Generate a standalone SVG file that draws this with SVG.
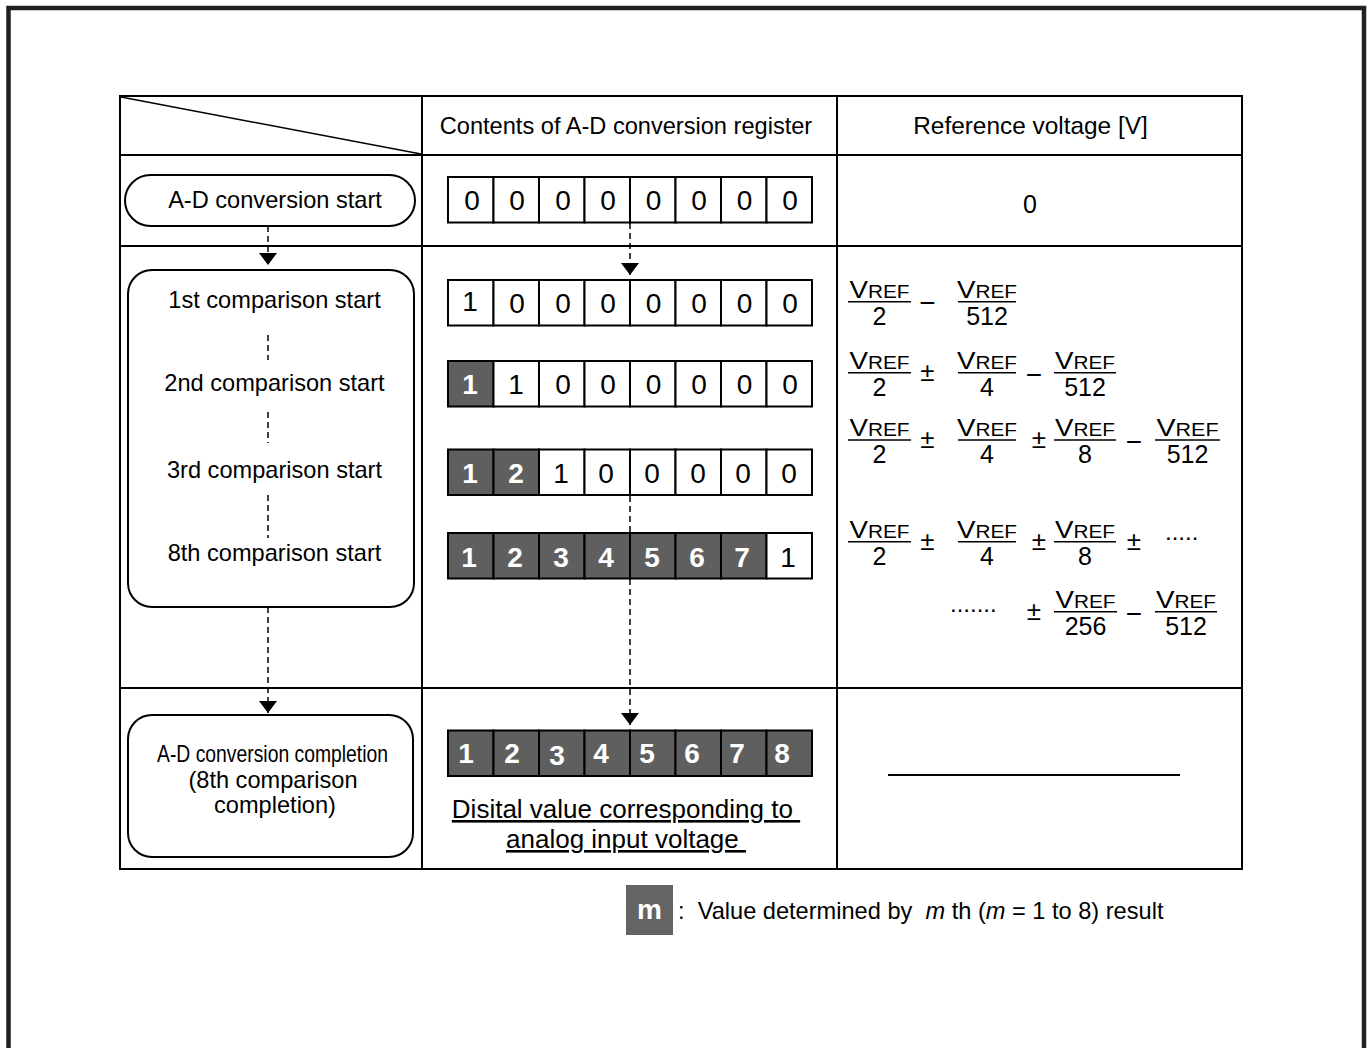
<svg xmlns="http://www.w3.org/2000/svg" width="1369" height="1048" viewBox="0 0 1369 1048">
<style>
text{font-family:"Liberation Sans",Arial,sans-serif;fill:#000}
.t{font-size:23.6px}
.c{text-anchor:middle}
.tb{fill:none;stroke:#000;stroke-width:2}
.pill{fill:#fff;stroke:#000;stroke-width:2}
.w{fill:#fff;stroke:#000;stroke-width:2}
.d{fill:#5f5f5f;stroke:#000;stroke-width:2}
.dg{font-size:28px;text-anchor:middle}
.db{font-size:28px;text-anchor:middle;font-weight:bold;fill:#fff}
.dash{stroke:#000;stroke-width:1.5;stroke-dasharray:6 4;fill:none}
.bar{stroke:#000;stroke-width:1.5}
.v{font-size:24px}
.r{font-size:18px}
.n{font-size:25px;text-anchor:middle}
.pm{font-size:26px;text-anchor:middle}
.mi{font-size:28px;text-anchor:middle}
.dots{font-size:24px}
</style>
<defs>
<marker id="ah" viewBox="0 0 12 18" refX="12" refY="9" markerWidth="12" markerHeight="18" markerUnits="userSpaceOnUse" orient="auto">
<path d="M0,0 L12,9 L0,18 z" fill="#000"/>
</marker>
</defs>
<rect x="0" y="0" width="1369" height="1048" fill="#fff"/>
<rect x="8.5" y="8" width="1355.5" height="1100" fill="none" stroke="#231f20" stroke-width="4.5"/>

<g id="table">
<rect class="tb" x="120" y="96" width="1122" height="773"/>
<line class="tb" x1="422" y1="96" x2="422" y2="869"/>
<line class="tb" x1="837" y1="96" x2="837" y2="869"/>
<line class="tb" x1="120" y1="155" x2="1242" y2="155"/>
<line class="tb" x1="120" y1="246" x2="1242" y2="246"/>
<line class="tb" x1="120" y1="688" x2="1242" y2="688"/>
<line stroke="#000" stroke-width="1.5" x1="121" y1="97" x2="421" y2="154"/>
<text class="t c" x="626" y="134">Contents of A-D conversion register</text>
<text class="c" font-size="24.4" x="1030.5" y="134">Reference voltage [V]</text>
</g>

<g id="start">
<rect class="pill" x="125" y="175" width="290" height="51" rx="25.5"/>
<text class="t c" x="275" y="208">A-D conversion start</text>
</g>

<g id="comparisons">
<rect class="pill" x="128" y="270" width="286" height="337" rx="24"/>
<text class="t c" x="274.5" y="308">1st comparison start</text>
<text class="t c" x="274.5" y="391">2nd comparison start</text>
<text class="t c" x="274.5" y="478">3rd comparison start</text>
<text class="t c" x="274.5" y="561">8th comparison start</text>
</g>

<g id="completion">
<rect class="pill" x="128" y="715" width="285" height="142" rx="24"/>
<text class="c" font-size="23.6" x="272.5" y="762" textLength="231" lengthAdjust="spacingAndGlyphs">A-D conversion completion</text>
<text class="t c" x="273" y="788">(8th comparison</text>
<text class="t c" x="275" y="813">completion)</text>
</g>

<g id="reg0">
<rect class="w" x="448" y="177" width="45.5" height="45.5"/><rect class="w" x="493.5" y="177" width="45.5" height="45.5"/><rect class="w" x="539" y="177" width="45.5" height="45.5"/><rect class="w" x="584.5" y="177" width="45.5" height="45.5"/><rect class="w" x="630" y="177" width="45.5" height="45.5"/><rect class="w" x="675.5" y="177" width="45.5" height="45.5"/><rect class="w" x="721" y="177" width="45.5" height="45.5"/><rect class="w" x="766.5" y="177" width="45.5" height="45.5"/>
<text class="dg" x="472" y="210">0</text><text class="dg" x="517" y="210">0</text><text class="dg" x="563" y="210">0</text><text class="dg" x="608" y="210">0</text><text class="dg" x="653.5" y="210">0</text><text class="dg" x="699" y="210">0</text><text class="dg" x="744.5" y="210">0</text><text class="dg" x="790" y="210">0</text>
</g>

<g id="reg1">
<rect class="w" x="448" y="280" width="45.5" height="45.5"/><rect class="w" x="493.5" y="280" width="45.5" height="45.5"/><rect class="w" x="539" y="280" width="45.5" height="45.5"/><rect class="w" x="584.5" y="280" width="45.5" height="45.5"/><rect class="w" x="630" y="280" width="45.5" height="45.5"/><rect class="w" x="675.5" y="280" width="45.5" height="45.5"/><rect class="w" x="721" y="280" width="45.5" height="45.5"/><rect class="w" x="766.5" y="280" width="45.5" height="45.5"/>
<text class="dg" x="470" y="311">1</text><text class="dg" x="517" y="313">0</text><text class="dg" x="563" y="313">0</text><text class="dg" x="608" y="313">0</text><text class="dg" x="653.5" y="313">0</text><text class="dg" x="699" y="313">0</text><text class="dg" x="744.5" y="313">0</text><text class="dg" x="790" y="313">0</text>
</g>

<g id="reg2">
<rect class="d" x="448" y="361" width="45.5" height="45.5"/><rect class="w" x="493.5" y="361" width="45.5" height="45.5"/><rect class="w" x="539" y="361" width="45.5" height="45.5"/><rect class="w" x="584.5" y="361" width="45.5" height="45.5"/><rect class="w" x="630" y="361" width="45.5" height="45.5"/><rect class="w" x="675.5" y="361" width="45.5" height="45.5"/><rect class="w" x="721" y="361" width="45.5" height="45.5"/><rect class="w" x="766.5" y="361" width="45.5" height="45.5"/>
<text class="db" x="470" y="394">1</text><text class="dg" x="516" y="394">1</text><text class="dg" x="563" y="394">0</text><text class="dg" x="608" y="394">0</text><text class="dg" x="653.5" y="394">0</text><text class="dg" x="699" y="394">0</text><text class="dg" x="744.5" y="394">0</text><text class="dg" x="790" y="394">0</text>
</g>

<g id="reg3">
<rect class="d" x="448" y="449.5" width="45.5" height="45.5"/><rect class="d" x="493.5" y="449.5" width="45.5" height="45.5"/><rect class="w" x="539" y="449.5" width="45.5" height="45.5"/><rect class="w" x="584.5" y="449.5" width="45.5" height="45.5"/><rect class="w" x="630" y="449.5" width="45.5" height="45.5"/><rect class="w" x="675.5" y="449.5" width="45.5" height="45.5"/><rect class="w" x="721" y="449.5" width="45.5" height="45.5"/><rect class="w" x="766.5" y="449.5" width="45.5" height="45.5"/>
<text class="db" x="470" y="483">1</text><text class="db" x="516" y="483">2</text><text class="dg" x="561" y="483">1</text><text class="dg" x="606" y="483">0</text><text class="dg" x="652" y="483">0</text><text class="dg" x="698" y="483">0</text><text class="dg" x="743" y="483">0</text><text class="dg" x="789" y="483">0</text>
</g>

<g id="reg4">
<rect class="d" x="448" y="533" width="45.5" height="45.5"/><rect class="d" x="493.5" y="533" width="45.5" height="45.5"/><rect class="d" x="539" y="533" width="45.5" height="45.5"/><rect class="d" x="584.5" y="533" width="45.5" height="45.5"/><rect class="d" x="630" y="533" width="45.5" height="45.5"/><rect class="d" x="675.5" y="533" width="45.5" height="45.5"/><rect class="d" x="721" y="533" width="45.5" height="45.5"/><rect class="w" x="766.5" y="533" width="45.5" height="45.5"/>
<text class="db" x="469" y="567">1</text><text class="db" x="515" y="567">2</text><text class="db" x="561" y="567">3</text><text class="db" x="606" y="567">4</text><text class="db" x="652" y="567">5</text><text class="db" x="697" y="567">6</text><text class="db" x="742" y="567">7</text><text class="dg" x="788" y="567">1</text>
</g>

<g id="reg5">
<rect class="d" x="448" y="730.5" width="45.5" height="45.5"/><rect class="d" x="493.5" y="730.5" width="45.5" height="45.5"/><rect class="d" x="539" y="730.5" width="45.5" height="45.5"/><rect class="d" x="584.5" y="730.5" width="45.5" height="45.5"/><rect class="d" x="630" y="730.5" width="45.5" height="45.5"/><rect class="d" x="675.5" y="730.5" width="45.5" height="45.5"/><rect class="d" x="721" y="730.5" width="45.5" height="45.5"/><rect class="d" x="766.5" y="730.5" width="45.5" height="45.5"/>
<text class="db" x="466" y="763">1</text><text class="db" x="512" y="763">2</text><text class="db" x="557" y="765">3</text><text class="db" x="601" y="763">4</text><text class="db" x="647" y="763">5</text><text class="db" x="692" y="763">6</text><text class="db" x="737" y="763">7</text><text class="db" x="782" y="763">8</text>
<text class="c" font-size="26" x="626" y="818" text-decoration="underline" xml:space="preserve">Disital value corresponding to </text>
<text class="c" font-size="26" x="626" y="848" text-decoration="underline" xml:space="preserve">analog input voltage </text>
</g>

<g id="voltages">
<text class="c" font-size="25" x="1030" y="213">0</text>
<!-- row 1 -->
<text class="c" x="879.5" y="298" textLength="60" lengthAdjust="spacingAndGlyphs"><tspan class="v">V</tspan><tspan class="r">REF</tspan></text>
<line class="bar" x1="848" y1="301.7" x2="911" y2="301.7"/>
<text class="n" x="879.5" y="325">2</text>
<text class="mi" x="927.5" y="312">−</text>
<text class="c" x="987" y="298" textLength="60" lengthAdjust="spacingAndGlyphs"><tspan class="v">V</tspan><tspan class="r">REF</tspan></text>
<line class="bar" x1="958" y1="301.7" x2="1016" y2="301.7"/>
<text class="n" x="987" y="325">512</text>
<!-- row 2 -->
<text class="c" x="879.5" y="369" textLength="60" lengthAdjust="spacingAndGlyphs"><tspan class="v">V</tspan><tspan class="r">REF</tspan></text>
<line class="bar" x1="848" y1="372.7" x2="911" y2="372.7"/>
<text class="n" x="879.5" y="396">2</text>
<text class="pm" x="927.5" y="381">±</text>
<text class="c" x="987" y="369" textLength="60" lengthAdjust="spacingAndGlyphs"><tspan class="v">V</tspan><tspan class="r">REF</tspan></text>
<line class="bar" x1="958" y1="372.7" x2="1016" y2="372.7"/>
<text class="n" x="987" y="396">4</text>
<text class="mi" x="1034" y="384">−</text>
<text class="c" x="1085" y="369" textLength="60" lengthAdjust="spacingAndGlyphs"><tspan class="v">V</tspan><tspan class="r">REF</tspan></text>
<line class="bar" x1="1054" y1="372.7" x2="1116" y2="372.7"/>
<text class="n" x="1085" y="396">512</text>
<!-- row 3 -->
<text class="c" x="879.5" y="436" textLength="60" lengthAdjust="spacingAndGlyphs"><tspan class="v">V</tspan><tspan class="r">REF</tspan></text>
<line class="bar" x1="848" y1="440" x2="911" y2="440"/>
<text class="n" x="879.5" y="463">2</text>
<text class="pm" x="927.5" y="448">±</text>
<text class="c" x="987" y="436" textLength="60" lengthAdjust="spacingAndGlyphs"><tspan class="v">V</tspan><tspan class="r">REF</tspan></text>
<line class="bar" x1="958" y1="440" x2="1016" y2="440"/>
<text class="n" x="987" y="463">4</text>
<text class="pm" x="1039" y="448">±</text>
<text class="c" x="1085" y="436" textLength="60" lengthAdjust="spacingAndGlyphs"><tspan class="v">V</tspan><tspan class="r">REF</tspan></text>
<line class="bar" x1="1054" y1="440" x2="1116" y2="440"/>
<text class="n" x="1085" y="463">8</text>
<text class="mi" x="1134" y="451">−</text>
<text class="c" x="1187.5" y="436" textLength="62" lengthAdjust="spacingAndGlyphs"><tspan class="v">V</tspan><tspan class="r">REF</tspan></text>
<line class="bar" x1="1155" y1="440" x2="1220" y2="440"/>
<text class="n" x="1187.5" y="463">512</text>
<!-- row 4 -->
<text class="c" x="879.5" y="538" textLength="60" lengthAdjust="spacingAndGlyphs"><tspan class="v">V</tspan><tspan class="r">REF</tspan></text>
<line class="bar" x1="848" y1="541.7" x2="911" y2="541.7"/>
<text class="n" x="879.5" y="565">2</text>
<text class="pm" x="927.5" y="550">±</text>
<text class="c" x="987" y="538" textLength="60" lengthAdjust="spacingAndGlyphs"><tspan class="v">V</tspan><tspan class="r">REF</tspan></text>
<line class="bar" x1="958" y1="541.7" x2="1016" y2="541.7"/>
<text class="n" x="987" y="565">4</text>
<text class="pm" x="1039" y="550">±</text>
<text class="c" x="1085" y="538" textLength="60" lengthAdjust="spacingAndGlyphs"><tspan class="v">V</tspan><tspan class="r">REF</tspan></text>
<line class="bar" x1="1054" y1="541.7" x2="1116" y2="541.7"/>
<text class="n" x="1085" y="565">8</text>
<text class="pm" x="1134" y="550">±</text>
<text class="dots" x="1165" y="540">.....</text>
<!-- row 5 -->
<text class="dots" x="950" y="612">.......</text>
<text class="pm" x="1034" y="620">±</text>
<text class="c" x="1085.5" y="608" textLength="60" lengthAdjust="spacingAndGlyphs"><tspan class="v">V</tspan><tspan class="r">REF</tspan></text>
<line class="bar" x1="1054" y1="611.7" x2="1117" y2="611.7"/>
<text class="n" x="1085.5" y="635">256</text>
<text class="mi" x="1134" y="623">−</text>
<text class="c" x="1186" y="608" textLength="60" lengthAdjust="spacingAndGlyphs"><tspan class="v">V</tspan><tspan class="r">REF</tspan></text>
<line class="bar" x1="1155" y1="611.7" x2="1217" y2="611.7"/>
<text class="n" x="1186" y="635">512</text>
<line stroke="#000" stroke-width="2" x1="888" y1="775" x2="1180" y2="775"/>
</g>

<g id="connectors">
<line class="dash" x1="268" y1="226" x2="268" y2="265" marker-end="url(#ah)"/>
<line class="dash" x1="268" y1="335" x2="268" y2="360"/>
<line class="dash" x1="268" y1="412" x2="268" y2="443"/>
<line class="dash" x1="268" y1="495" x2="268" y2="538"/>
<line class="dash" x1="268" y1="607" x2="268" y2="713" marker-end="url(#ah)"/>
<line class="dash" x1="630" y1="223" x2="630" y2="275" marker-end="url(#ah)"/>
<line class="dash" x1="630" y1="496" x2="630" y2="533"/>
<line class="dash" x1="630" y1="579" x2="630" y2="725" marker-end="url(#ah)"/>
</g>

<g id="legend">
<rect x="626" y="885" width="47" height="50" fill="#646464"/>
<text x="649.5" y="919" font-size="28" font-weight="bold" text-anchor="middle" style="fill:#fff">m</text>
<text class="t" x="678" y="919" xml:space="preserve">:  Value determined by  <tspan font-style="italic">m</tspan> th (<tspan font-style="italic">m</tspan> = 1 to 8) result</text>
</g>
</svg>
